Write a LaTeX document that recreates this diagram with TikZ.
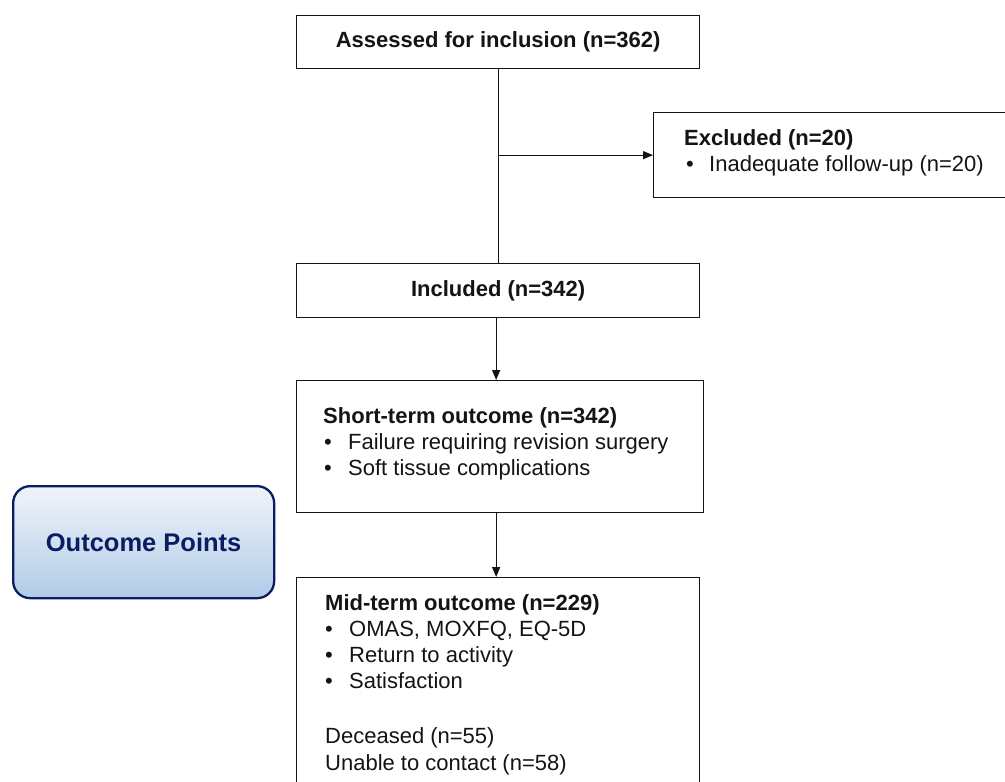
\documentclass[tikz,border=0pt]{standalone}
\usepackage{fontspec}
\setmainfont{Liberation Sans}
\usetikzlibrary{arrows.meta}
\definecolor{navy}{HTML}{0B1D62}
\definecolor{optop}{HTML}{F0F4FA}
\definecolor{opbot}{HTML}{B2CBE7}
\definecolor{ink}{HTML}{141414}
\begin{document}
\begin{tikzpicture}[x=1pt,y=-1pt,
  box/.style={draw=ink, line width=1.3pt, inner sep=0pt, anchor=north west, text=ink,
    font=\fontsize{22}{26}\selectfont\bfseries},
  ln/.style={anchor=base west, inner sep=0pt, text=ink, font=\fontsize{22}{26}\selectfont},
  ttl/.style={ln, font=\fontsize{22}{26}\selectfont\bfseries},
  arr/.style={draw=ink, line width=1.3pt, -{Triangle[length=10pt,width=8pt]}},
  lnk/.style={draw=ink, line width=1.3pt}]
\useasboundingbox (0,0) rectangle (1005,782);
\clip (0,0) rectangle (1005,782);
\fill[white] (0,0) rectangle (1005,782);

% boxes
\node[box, minimum width=403pt, minimum height=53pt] (assess) at (296,15) {Assessed for inclusion (n=362)};
\node[box, minimum width=370pt, minimum height=85pt] (excl) at (653,112) {};
\node[box, minimum width=403pt, minimum height=54pt] (incl) at (296,263) {Included (n=342)};
\node[box, minimum width=407pt, minimum height=132pt] (short) at (296,380) {};
\node[box, minimum width=403pt, minimum height=240pt] (mid) at (296,577) {};

% excluded text
\node[ttl] (exT) at (684,145) {Excluded (n=20)};
\node[ln] (exB) at (686,171) {\makebox[23pt][l]{•}Inadequate follow-up (n=20)};

% short-term text
\node[ttl] (stT) at (323,423) {Short-term outcome (n=342)};
\node[ln] (stB1) at (324,449) {\makebox[24pt][l]{•}Failure requiring revision surgery};
\node[ln] (stB2) at (324,475) {\makebox[24pt][l]{•}Soft tissue complications};

% mid-term text
\node[ttl] (mtT) at (325,610) {Mid-term outcome (n=229)};
\node[ln] (mtB1) at (325,636) {\makebox[24pt][l]{•}OMAS, MOXFQ, EQ-5D};
\node[ln] (mtB2) at (325,662) {\makebox[24pt][l]{•}Return to activity};
\node[ln] (mtB3) at (325,688) {\makebox[24pt][l]{•}Satisfaction};
\node[ln] (mtD) at (325,743) {Deceased (n=55)};
\node[ln] (mtU) at (325,770) {Unable to contact (n=58)};

% outcome points
\node[draw=navy, line width=2.3pt, rounded corners=17pt, top color=optop, bottom color=opbot,
  minimum width=261pt, minimum height=112pt, anchor=north west, inner sep=0pt,
  text=navy, font=\fontsize{25.5}{28}\selectfont\bfseries] (op) at (12,485) {\raisebox{-6pt}{Outcome Points}};

% connectors
\coordinate (jn) at (assess.south |- excl.west);
\draw[lnk] (assess.south) -- (incl.north);
\draw[arr] (jn) -- (excl.west);
\draw[arr] ([xshift=-2pt]incl.south) -- ([xshift=-2pt]incl.south |- short.north);
\draw[arr] ([xshift=-2pt]incl.south |- short.south) -- ([xshift=-2pt]incl.south |- mid.north);
\end{tikzpicture}
\end{document}
